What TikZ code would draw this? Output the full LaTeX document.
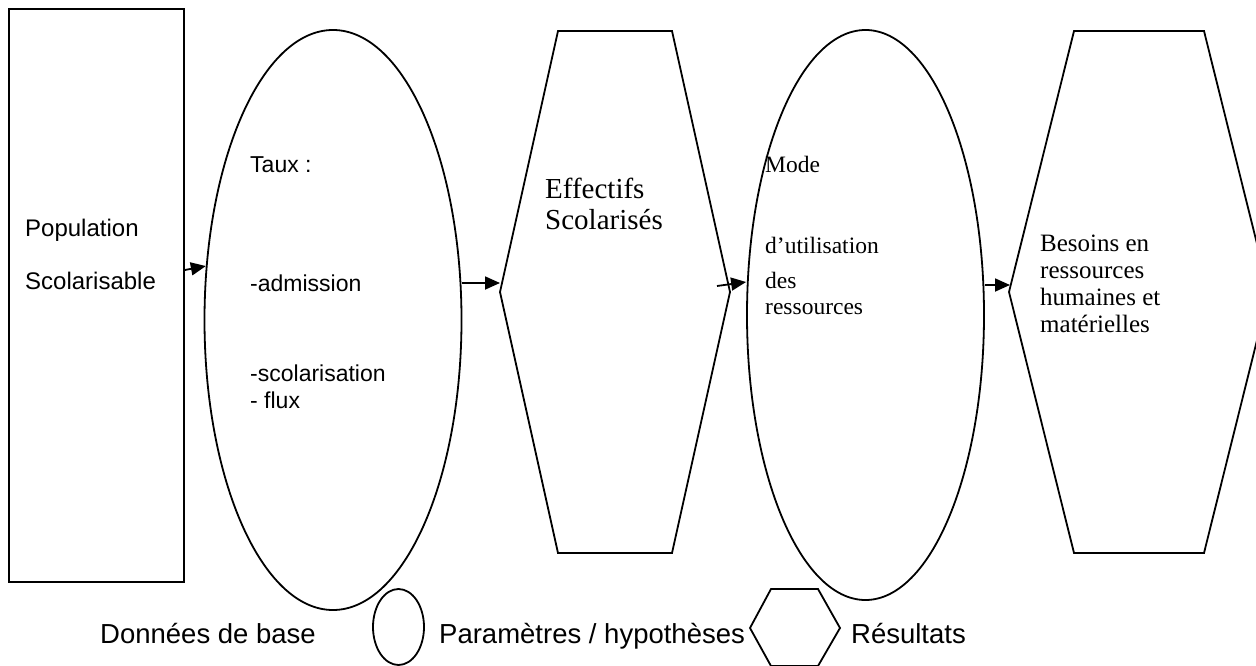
\documentclass[tikz,border=0pt]{standalone}
\usepackage{fontspec}
\setmainfont{Liberation Serif}
\newfontfamily\arialf{Liberation Sans}
\usetikzlibrary{shapes.geometric,arrows.meta,calc}
\begin{document}
\begin{tikzpicture}[x=1pt,y=-1pt,
  shp/.style={draw=black,line width=1.8pt},
  arr/.style={line width=1.8pt,-{Triangle[length=15pt,width=13pt]}},
  sans/.style={anchor=base west,inner sep=0pt,font=\arialf\fontsize{23}{27}\selectfont},
  serif/.style={anchor=base west,inner sep=0pt,font=\fontsize{25}{27}\selectfont},
  leg/.style={anchor=base west,inner sep=0pt,font=\arialf\fontsize{27.5}{32}\selectfont}]
\useasboundingbox (0,0) rectangle (1256,666);
% shapes
\node[shp,rectangle,minimum width=175pt,minimum height=573pt,inner sep=0pt] (r) at (96.5,295.5) {};
\node[shp,ellipse,minimum width=257pt,minimum height=580pt,inner sep=0pt] (e1) at (333,320) {};
\node[shp,ellipse,minimum width=237pt,minimum height=570pt,inner sep=0pt] (e2) at (865.5,315) {};
\coordinate (h1w) at (500,292);
\coordinate (h1e) at (730,292);
\draw[shp] (h1w) -- (558,31) -- (672,31) -- (h1e) -- (672,553) -- (558,553) -- cycle;
\coordinate (h2w) at (1009,292);
\coordinate (h2e) at (1269,292);
\draw[shp] (h2w) -- (1074,31) -- (1204,31) -- (h2e) -- (1204,553) -- (1074,553) -- cycle;
% arrows
\draw[arr] (r.east |- 0,270) -- (e1.157);
\draw[arr] (e1.east |- 0,283) -- (h1w |- 0,283);
\draw[arr] ($(h1e)+(-13,-6)$) -- (e2.west |- 0,282);
\draw[arr] (e2.east |- 0,285) -- ($(h2w)+(1,-7)$);
% texts
\node[sans,font=\arialf\fontsize{24}{27}\selectfont] (t1) at (25,236) {Population};
\node[sans,font=\arialf\fontsize{24}{27}\selectfont] (t2) at (25,289) {Scolarisable};
\node[sans] (t3) at (250,173) {Taux :};
\node[sans] (t4) at (250,291) {-admission};
\node[sans] (t5) at (250,381) {-scolarisation};
\node[sans] (t6) at (250,408) {- flux};
\node[serif,font=\fontsize{29}{30}\selectfont] (t7) at (545,198) {Effectifs};
\node[serif,font=\fontsize{29}{30}\selectfont] (t8) at (545,229) {Scolarisés};
\node[serif,font=\fontsize{23.5}{27}\selectfont] (t9) at (765,173) {Mode};
\node[serif,font=\fontsize{23.5}{27}\selectfont] (t10) at (765,253) {d’utilisation};
\node[serif,font=\fontsize{23.5}{27}\selectfont] (t11) at (765,288) {des};
\node[serif,font=\fontsize{23.5}{27}\selectfont] (t12) at (765,314) {ressources};
\node[serif] (t13) at (1040,251) {Besoins en};
\node[serif] (t14) at (1040,278) {ressources};
\node[serif] (t15) at (1040,305) {humaines et};
\node[serif] (t16) at (1040,332) {matérielles};
% legend
\node[leg] (l1) at (100,643) {Données de base};
\node[shp,ellipse,minimum width=51pt,minimum height=76pt,inner sep=0pt] (le) at (398.5,627) {};
\node[leg] (l2) at (439,643) {Paramètres / hypothèses};
\draw[shp] (750,628) -- (771,589) -- (818,589) -- (840,628) -- (818,666) -- (771,666) -- cycle;
\node[leg] (l3) at (851,643) {Résultats};
\end{tikzpicture}
\end{document}
